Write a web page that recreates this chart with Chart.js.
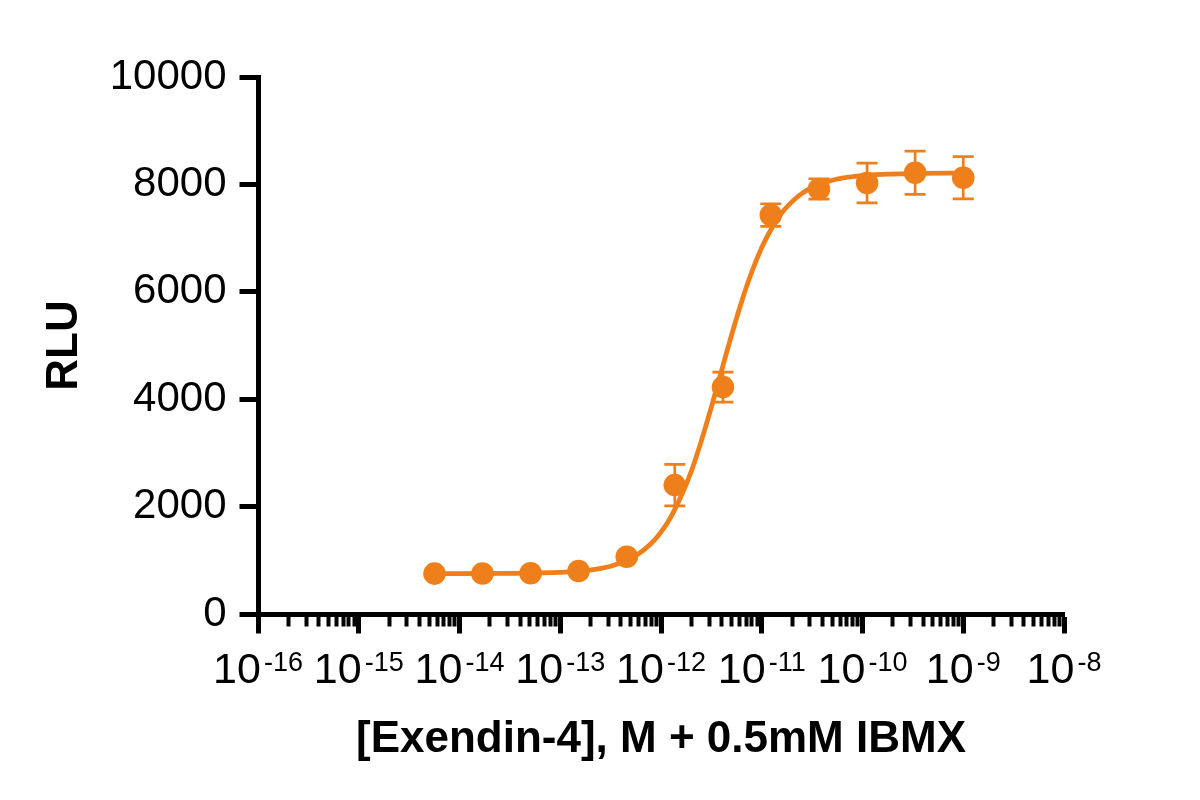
<!DOCTYPE html>
<html>
<head>
<meta charset="utf-8">
<script src="https://cdn.jsdelivr.net/npm/chart.js@4.4.1/dist/chart.umd.min.js"></script>
<style>
  html, body { margin: 0; padding: 0; background: #ffffff; }
  #wrap { width: 1200px; height: 800px; position: relative; }
</style>
</head>
<body>
<div id="wrap"><canvas id="c" width="1200" height="800"></canvas></div>
<script>
// ---- data ----
const concentrations = [5.65e-15, 1.69e-14, 5.08e-14, 1.52e-13, 4.57e-13, 1.37e-12, 4.12e-12, 1.23e-11, 3.70e-11, 1.11e-10, 3.33e-10, 1.0e-9];
const rluMean = [752, 755, 758, 800, 1065, 2400, 4225, 7430, 7915, 8025, 8218, 8125];
const rluSD   = [30, 30, 30, 35, 50, 385, 280, 210, 190, 370, 403, 394];

// fitted curve, read along its path
const curveX = [5.65e-15, 3.16e-14, 1e-13, 1.78e-13, 3.16e-13, 5.62e-13, 7.94e-13, 1e-12, 1.26e-12, 1.58e-12, 2.0e-12, 2.51e-12, 3.16e-12, 3.98e-12, 5.01e-12, 6.31e-12, 7.94e-12, 1e-11, 1.26e-11, 1.58e-11, 2.0e-11, 2.51e-11, 3.16e-11, 5.62e-11, 1e-10, 3.16e-10, 1e-9];
const curveY = [752, 757, 776, 809, 890, 1085, 1307, 1525, 1814, 2191, 2659, 3219, 3851, 4524, 5192, 5816, 6364, 6824, 7188, 7469, 7679, 7833, 7943, 8100, 8165, 8203, 8209];

// axis ticks
const xMajorTicks = [1e-16, 1e-15, 1e-14, 1e-13, 1e-12, 1e-11, 1e-10, 1e-9, 1e-8];
const xTickBase = "10";
const xTickExponents = ["-16", "-15", "-14", "-13", "-12", "-11", "-10", "-9", "-8"];
const xMinorMultipliers = [2, 3, 4, 5, 6, 7, 8, 9];
const yTickStep = 2000;
const yMin = 0, yMax = 10000;
const xTitle = "[Exendin-4], M + 0.5mM IBMX";
const yTitle = "RLU";

// ---- styling ----
const ORANGE = '#EE7F1A';
const FONT = "'Liberation Sans', Arial, Helvetica, sans-serif";

const errorBarPlugin = {
  id: 'errorBars',
  afterDatasetsDraw(chart) {
    const xs = chart.scales.x, ys = chart.scales.y;
    const ctx = chart.ctx;
    ctx.save();
    ctx.strokeStyle = ORANGE;
    ctx.lineWidth = 2.7;
    const cap = 10.5;
    for (let i = 0; i < concentrations.length; i++) {
      const px = xs.getPixelForValue(concentrations[i]);
      const pTop = ys.getPixelForValue(rluMean[i] + rluSD[i]);
      const pBot = ys.getPixelForValue(rluMean[i] - rluSD[i]);
      ctx.beginPath();
      ctx.moveTo(px, pTop); ctx.lineTo(px, pBot);
      ctx.moveTo(px - cap, pTop); ctx.lineTo(px + cap, pTop);
      ctx.moveTo(px - cap, pBot); ctx.lineTo(px + cap, pBot);
      ctx.stroke();
    }
    ctx.restore();
  }
};

// x tick labels with real superscript exponents, positioned by the x scale
const powerLabelPlugin = {
  id: 'powerLabels',
  afterDraw(chart) {
    const xs = chart.scales.x;
    const ctx = chart.ctx;
    const baseFont = "43px " + FONT;
    const expFont = "27px " + FONT;
    const baseY = xs.top + 69;
    const expY = xs.top + 57;
    const gap = 3;
    ctx.save();
    ctx.fillStyle = '#000';
    ctx.textBaseline = 'alphabetic';
    ctx.textAlign = 'left';
    for (let i = 0; i < xMajorTicks.length; i++) {
      const px = xs.getPixelForValue(xMajorTicks[i]);
      ctx.font = baseFont;
      const wb = ctx.measureText(xTickBase).width;
      ctx.font = expFont;
      const we = ctx.measureText(xTickExponents[i]).width;
      const x0 = px - (wb + gap + we) / 2;
      ctx.font = baseFont;
      ctx.fillText(xTickBase, x0, baseY);
      ctx.font = expFont;
      ctx.fillText(xTickExponents[i], x0 + wb + gap, expY);
    }
    ctx.restore();
  }
};

const minorTickValues = [];
for (let d = 0; d < xMajorTicks.length - 1; d++) {
  for (const m of xMinorMultipliers) minorTickValues.push(m * xMajorTicks[d]);
}

new Chart(document.getElementById('c'), {
  type: 'scatter',
  data: {
    datasets: [
      {
        label: 'fit',
        data: curveX.map((x, i) => ({ x: x, y: curveY[i] })),
        showLine: true,
        borderColor: ORANGE,
        backgroundColor: ORANGE,
        borderWidth: 4.8,
        pointRadius: 0,
        cubicInterpolationMode: 'monotone',
        fill: false,
        xAxisID: 'x', yAxisID: 'y',
        order: 2
      },
      {
        label: 'RLU',
        data: concentrations.map((x, i) => ({ x: x, y: rluMean[i] })),
        pointRadius: 11.3,
        pointHoverRadius: 11.3,
        backgroundColor: ORANGE,
        borderColor: ORANGE,
        borderWidth: 0,
        xAxisID: 'x', yAxisID: 'y',
        order: 1
      }
    ]
  },
  options: {
    responsive: false,
    animation: false,
    events: [],
    layout: { padding: { top: 77, right: 136, bottom: 0, left: 0 } },
    plugins: { legend: { display: false }, tooltip: { enabled: false } },
    scales: {
      xMinor: {
        type: 'logarithmic',
        axis: 'x',
        position: 'bottom',
        weight: 0,
        min: xMajorTicks[0],
        max: xMajorTicks[xMajorTicks.length - 1],
        afterBuildTicks: (s) => { s.ticks = minorTickValues.map(v => ({ value: v })); },
        ticks: { display: false },
        grid: { drawOnChartArea: false, drawTicks: true, tickLength: 12.5, tickWidth: 4, tickColor: '#000' },
        border: { display: false },
        afterFit: (s) => { s.height = 0; }
      },
      x: {
        type: 'logarithmic',
        position: 'bottom',
        weight: 1,
        min: xMajorTicks[0],
        max: xMajorTicks[xMajorTicks.length - 1],
        afterBuildTicks: (s) => { s.ticks = xMajorTicks.map(v => ({ value: v, major: true })); },
        ticks: { display: false, autoSkip: false, maxRotation: 0 },
        grid: { drawOnChartArea: false, drawTicks: true, tickLength: 19.5, tickWidth: 5, tickColor: '#000' },
        border: { display: true, width: 5, color: '#000' },
        title: {
          display: true,
          text: xTitle,
          color: '#000',
          font: { family: FONT, size: 44, weight: 'bold' },
          padding: { top: 0, bottom: 34 }
        },
        afterFit: (s) => { s.height = 186; }
      },
      y: {
        type: 'linear',
        position: 'left',
        min: yMin,
        max: yMax,
        ticks: {
          stepSize: yTickStep,
          padding: 13,
          color: '#000',
          font: { family: FONT, size: 42 },
          callback: (v) => String(v)
        },
        grid: { drawOnChartArea: false, drawTicks: true, tickLength: 18.5, tickWidth: 5, tickColor: '#000' },
        border: { display: true, width: 5, color: '#000' },
        title: {
          display: true,
          text: yTitle,
          color: '#000',
          font: { family: FONT, size: 44, weight: 'bold' },
          padding: { top: 38, bottom: 0 }
        },
        afterFit: (s) => { s.width = 258; }
      }
    }
  },
  plugins: [errorBarPlugin, powerLabelPlugin]
});
</script>
</body>
</html>
